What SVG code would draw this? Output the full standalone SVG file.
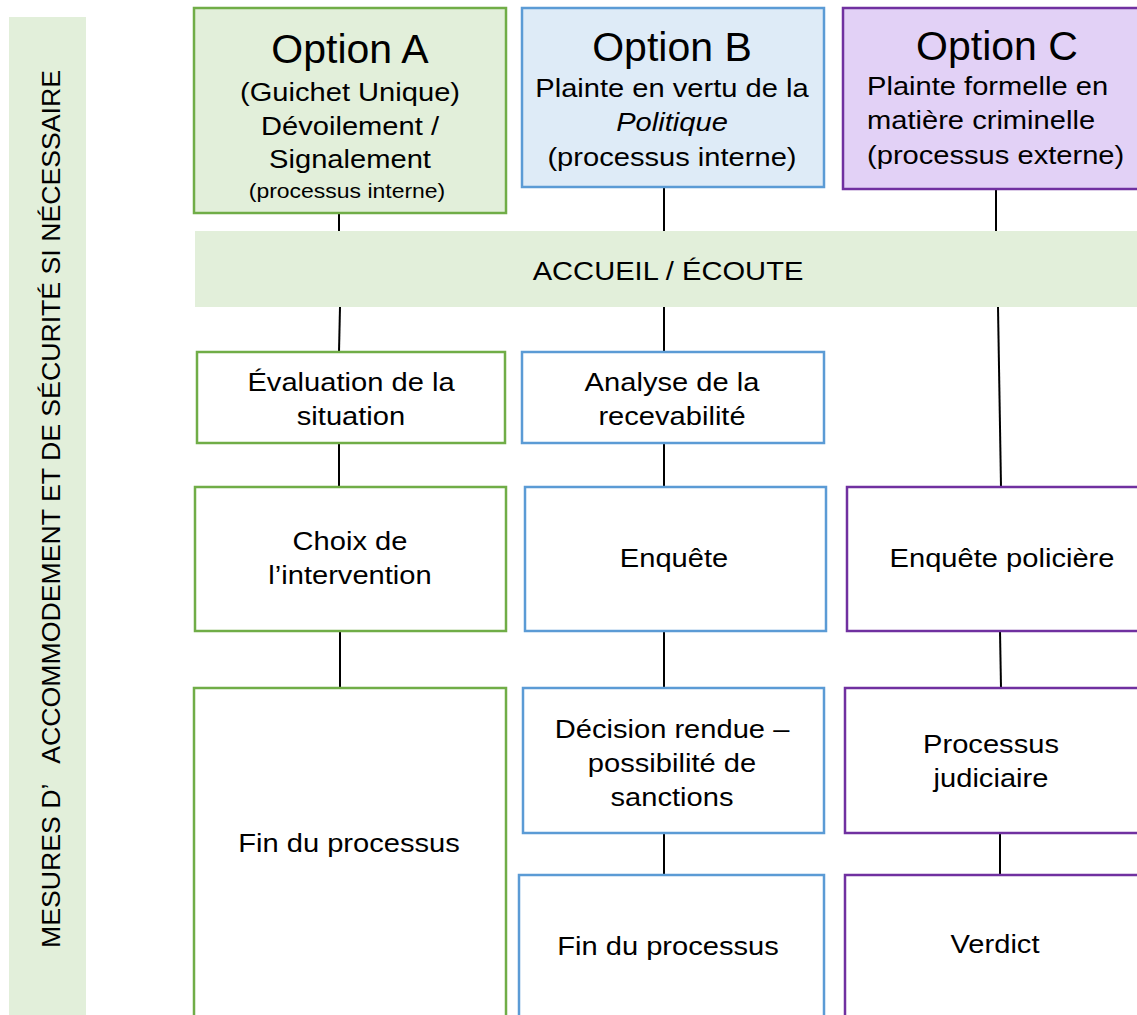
<svg xmlns="http://www.w3.org/2000/svg" width="1137" height="1015" viewBox="0 0 1137 1015">
<style>
text{font-family:"Liberation Sans",Arial,sans-serif;fill:#000;}
.t{font-size:26px;text-anchor:middle;}
.l{font-size:26px;text-anchor:start;}
.h{font-size:41px;text-anchor:middle;}
.s{font-size:20.5px;text-anchor:middle;}
.ga{fill:#e2efda;stroke:#70ad47;stroke-width:2.5;}
.gb{fill:#deebf7;stroke:#5b9bd5;stroke-width:2.5;}
.gc{fill:#e2d1f6;stroke:#7030a0;stroke-width:2.5;}
.wa{fill:#fff;stroke:#70ad47;stroke-width:2.5;}
.wb{fill:#fff;stroke:#5b9bd5;stroke-width:2.5;}
.wc{fill:#fff;stroke:#7030a0;stroke-width:2.5;}
.c{stroke:#000;stroke-width:2;fill:none;}
</style>
<rect width="1137" height="1015" fill="#fff"/>
<g id="side">
<rect x="9" y="17" width="77" height="1000" fill="#e2efda"/>
<text transform="translate(60,509) rotate(-90)" style="font-size:25px;text-anchor:middle;white-space:pre" xml:space="preserve" textLength="878" lengthAdjust="spacingAndGlyphs">MESURES D’   ACCOMMODEMENT ET DE SÉCURITÉ SI NÉCESSAIRE</text>
</g>
<g id="connectors">
<line class="c" x1="339" y1="213" x2="339" y2="231"/>
<line class="c" x1="340" y1="307" x2="339" y2="352"/>
<line class="c" x1="339" y1="443" x2="339" y2="487"/>
<line class="c" x1="340" y1="631" x2="340" y2="688"/>
<line class="c" x1="664" y1="188" x2="664" y2="231"/>
<line class="c" x1="664" y1="307" x2="664" y2="352"/>
<line class="c" x1="664" y1="443" x2="664" y2="487"/>
<line class="c" x1="664" y1="631" x2="664" y2="688"/>
<line class="c" x1="664" y1="833" x2="664" y2="875"/>
<line class="c" x1="996" y1="189" x2="996" y2="231"/>
<line class="c" x1="998" y1="307" x2="1001" y2="487"/>
<line class="c" x1="1000" y1="631" x2="1001" y2="688"/>
<line class="c" x1="1000" y1="833" x2="1000" y2="875"/>
</g>
<g id="optA">
<rect class="ga" x="194" y="8" width="312" height="205"/>
<text class="h" x="350" y="63">Option A</text>
<text class="t" transform="translate(350,101) scale(1.12,1)">(Guichet Unique)</text>
<text class="t" transform="translate(350,135) scale(1.12,1)">Dévoilement /</text>
<text class="t" transform="translate(350,168) scale(1.12,1)">Signalement</text>
<text class="s" transform="translate(347,198) scale(1.12,1)">(processus interne)</text>
</g>
<g id="optB">
<rect class="gb" x="522" y="8" width="302" height="179"/>
<text class="h" x="672" y="61">Option B</text>
<text class="t" transform="translate(672,97) scale(1.12,1)">Plainte en vertu de la</text>
<text class="t" transform="translate(672,131) scale(1.12,1)" font-style="italic">Politique</text>
<text class="t" transform="translate(672,166) scale(1.12,1)">(processus interne)</text>
</g>
<g id="optC">
<rect class="gc" x="843" y="8" width="300" height="181"/>
<text class="h" x="997" y="60">Option C</text>
<text class="l" transform="translate(867,95) scale(1.12,1)">Plainte formelle en</text>
<text class="l" transform="translate(867,129) scale(1.12,1)">matière criminelle</text>
<text class="l" transform="translate(867,164) scale(1.12,1)">(processus externe)</text>
</g>
<g id="accueil">
<rect x="195" y="231" width="945" height="76" fill="#e2efda"/>
<text class="t" transform="translate(668,280) scale(1.12,1)">ACCUEIL / ÉCOUTE</text>
</g>
<g id="evaluation">
<rect class="wa" x="197" y="352" width="308" height="91"/>
<text class="t" transform="translate(351,391) scale(1.12,1)">Évaluation de la</text>
<text class="t" transform="translate(351,425) scale(1.12,1)">situation</text>
</g>
<g id="analyse">
<rect class="wb" x="522" y="352" width="302" height="91"/>
<text class="t" transform="translate(672,391) scale(1.12,1)">Analyse de la</text>
<text class="t" transform="translate(672,425) scale(1.12,1)">recevabilité</text>
</g>
<g id="choix">
<rect class="wa" x="195" y="487" width="311" height="144"/>
<text class="t" transform="translate(350,550) scale(1.12,1)">Choix de</text>
<text class="t" transform="translate(350,584) scale(1.12,1)">l’intervention</text>
</g>
<g id="enquete">
<rect class="wb" x="525" y="487" width="301" height="144"/>
<text class="t" transform="translate(674,567) scale(1.12,1)">Enquête</text>
</g>
<g id="enquetepol">
<rect class="wc" x="847" y="487" width="295" height="144"/>
<text class="t" transform="translate(1002,567) scale(1.12,1)">Enquête policière</text>
</g>
<g id="finA">
<rect class="wa" x="194" y="688" width="312" height="340"/>
<text class="t" transform="translate(349,852) scale(1.12,1)">Fin du processus</text>
</g>
<g id="decision">
<rect class="wb" x="523" y="688" width="301" height="145"/>
<text class="t" transform="translate(672,738) scale(1.12,1)">Décision rendue –</text>
<text class="t" transform="translate(672,772) scale(1.12,1)">possibilité de</text>
<text class="t" transform="translate(672,806) scale(1.12,1)">sanctions</text>
</g>
<g id="judiciaire">
<rect class="wc" x="845" y="688" width="297" height="145"/>
<text class="t" transform="translate(991,753) scale(1.12,1)">Processus</text>
<text class="t" transform="translate(991,787) scale(1.12,1)">judiciaire</text>
</g>
<g id="finB">
<rect class="wb" x="519" y="875" width="305" height="150"/>
<text class="t" transform="translate(668,955) scale(1.12,1)">Fin du processus</text>
</g>
<g id="verdict">
<rect class="wc" x="845" y="875" width="297" height="150"/>
<text class="t" transform="translate(995,953) scale(1.12,1)">Verdict</text>
</g>
</svg>
